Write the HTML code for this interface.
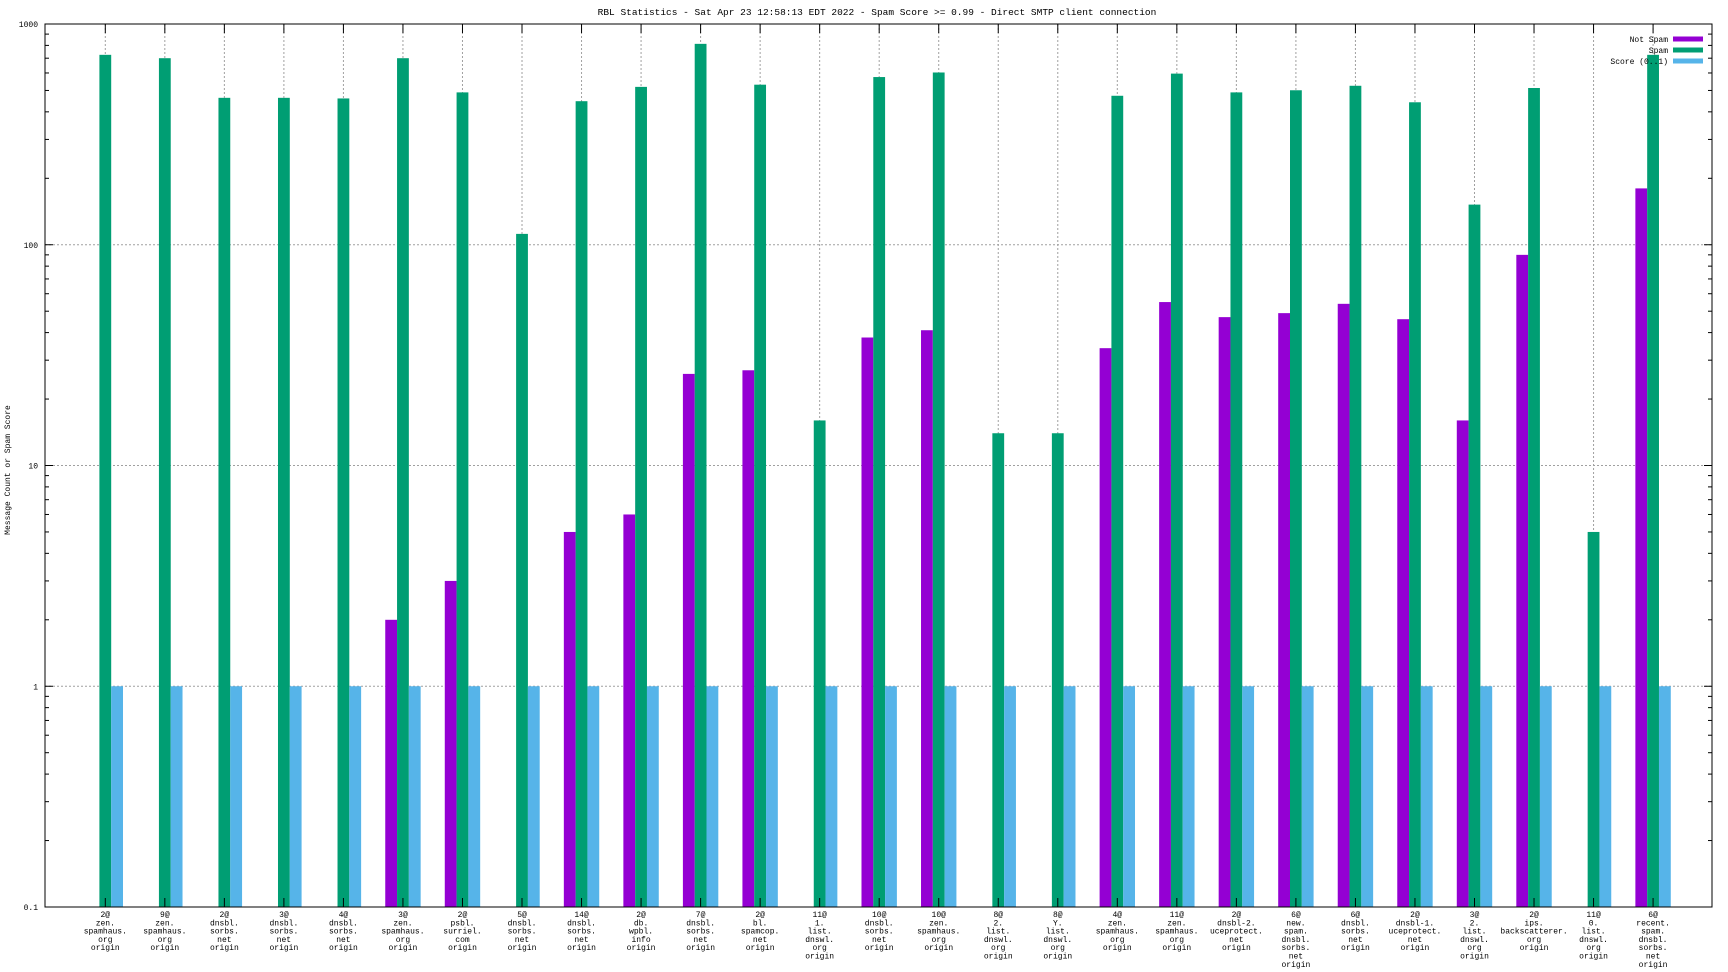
<!DOCTYPE html>
<html><head><meta charset="utf-8"><style>
html,body{margin:0;padding:0;background:#fff;}
svg{display:block;font-family:"Liberation Mono","DejaVu Sans Mono",monospace;}
</style></head><body>
<svg id="chart" width="1728" height="972" viewBox="0 0 1728 972" xmlns="http://www.w3.org/2000/svg">
<text x="877" y="15" font-size="9.5" text-anchor="middle">RBL Statistics - Sat Apr 23 12:58:13 EDT 2022 - Spam Score &gt;= 0.99 - Direct SMTP client connection</text>
<text transform="translate(10,470) rotate(-90)" font-size="8" text-anchor="middle">Message Count or Spam Score</text>
<g id="grid"></g>
<g id="bars"></g>
<g id="axes"></g>
<g id="legend"></g>
</svg>
<script>
const categories = [
["2@","zen.","spamhaus.","org","origin"],
["9@","zen.","spamhaus.","org","origin"],
["2@","dnsbl.","sorbs.","net","origin"],
["3@","dnsbl.","sorbs.","net","origin"],
["4@","dnsbl.","sorbs.","net","origin"],
["3@","zen.","spamhaus.","org","origin"],
["2@","psbl.","surriel.","com","origin"],
["5@","dnsbl.","sorbs.","net","origin"],
["14@","dnsbl.","sorbs.","net","origin"],
["2@","db.","wpbl.","info","origin"],
["7@","dnsbl.","sorbs.","net","origin"],
["2@","bl.","spamcop.","net","origin"],
["11@","1.","list.","dnswl.","org","origin"],
["10@","dnsbl.","sorbs.","net","origin"],
["10@","zen.","spamhaus.","org","origin"],
["8@","2.","list.","dnswl.","org","origin"],
["8@","Y.","list.","dnswl.","org","origin"],
["4@","zen.","spamhaus.","org","origin"],
["11@","zen.","spamhaus.","org","origin"],
["2@","dnsbl-2.","uceprotect.","net","origin"],
["6@","new.","spam.","dnsbl.","sorbs.","net","origin"],
["6@","dnsbl.","sorbs.","net","origin"],
["2@","dnsbl-1.","uceprotect.","net","origin"],
["3@","2.","list.","dnswl.","org","origin"],
["2@","ips.","backscatterer.","org","origin"],
["11@","0.","list.","dnswl.","org","origin"],
["6@","recent.","spam.","dnsbl.","sorbs.","net","origin"]
];
const notSpam = [0,0,0,0,0,2,3,0,5,6,26,27,0,38,41,0,0,34,55,47,49,54,46,16,90,0,180];
const spam = [725,700,463,463,460,700,490,112,447,519,813,531,16,575,603,14,14,473,596,490,501,525,442,152,513,5,725];
const score = [1,1,1,1,1,1,1,1,1,1,1,1,1,1,1,1,1,1,1,1,1,1,1,1,1,1,1];
const yTicks = [0.1,1,10,100,1000];
const yTickLabels = ["0.1","1","10","100","1000"];

const NS="http://www.w3.org/2000/svg";
const L=45,R=1712,T=24,B=907;
const x0=105.3, step=59.53, bw=11.8;
function xs(i){return x0+i*step;}
function ys(v){return B-(Math.log10(v)+1)*(B-T)/4;}
function mk(tag,attrs,parent){const e=document.createElementNS(NS,tag);for(const k in attrs)e.setAttribute(k,attrs[k]);parent.appendChild(e);return e;}
const grid=document.getElementById('grid'),bars=document.getElementById('bars'),axes=document.getElementById('axes'),legend=document.getElementById('legend');

// horizontal grid
yTicks.forEach((v,k)=>{
  const y=ys(v);
  if(k>0&&k<yTicks.length-1){
    const g=mk('line',{x1:L,x2:R,y1:y,y2:y,stroke:'#a0a0a0','stroke-dasharray':'2,2','stroke-width':1},grid);
    
    
  }
  const t=mk('text',{x:L-7,y:y+3,'font-size':8,'text-anchor':'end'},axes);
  t.textContent=yTickLabels[k];
  
  
  mk('line',{x1:L,x2:L+8,y1:y,y2:y,stroke:'#000'},axes);
  mk('line',{x1:R,x2:R-8,y1:y,y2:y,stroke:'#000'},axes);
  if(k<yTicks.length-1){
    for(let m=2;m<10;m++){
      const ym=ys(v*m);
      mk('line',{x1:L,x2:L+4,y1:ym,y2:ym,stroke:'#000'},axes);
      mk('line',{x1:R,x2:R-4,y1:ym,y2:ym,stroke:'#000'},axes);
    }
  }
});

categories.forEach((lines,i)=>{
  const c=xs(i);
  const g=mk('line',{x1:c,x2:c,y1:T,y2:B,stroke:'#a0a0a0','stroke-dasharray':'2,2','stroke-width':1},grid);
  
  
  mk('line',{x1:c,x2:c,y1:T,y2:T+9,stroke:'#000'},axes);
  mk('line',{x1:c,x2:c,y1:B,y2:B-9,stroke:'#000'},axes);
  const series=[[notSpam[i],'#9400d3',-1.5,'bar-not-spam'],[spam[i],'#009e73',-0.5,'bar-spam'],[score[i],'#56b4e9',0.5,'bar-score']];
  series.forEach(s=>{
    if(s[0]>0){
      const y=ys(s[0]);
      const r=mk('rect',{x:c+s[2]*bw,y:y,width:bw,height:B-y,fill:s[1]},bars);
      
      
    }
  });
  const t=mk('text',{x:c,y:917,'font-size':8,'text-anchor':'middle'},axes);
  
  
  lines.forEach((ln,j)=>{const sp=mk('tspan',{x:c,dy:j?8.3:0},t);sp.textContent=ln;});
});

mk('rect',{x:L,y:T,width:R-L,height:B-T,fill:'none',stroke:'#000','stroke-width':1},axes);

const legendItems=[["Not Spam","#9400d3"],["Spam","#009e73"],["Score (0..1)","#56b4e9"]];
legendItems.forEach((it,k)=>{
  const y=39+k*11;
  const t=mk('text',{x:1668,y:y+3,'font-size':8,'text-anchor':'end'},legend);
  t.textContent=it[0];
  
  
  const r=mk('rect',{x:1673,y:y-2.5,width:30,height:5,fill:it[1]},legend);
  
  
});
</script>
</body></html>
